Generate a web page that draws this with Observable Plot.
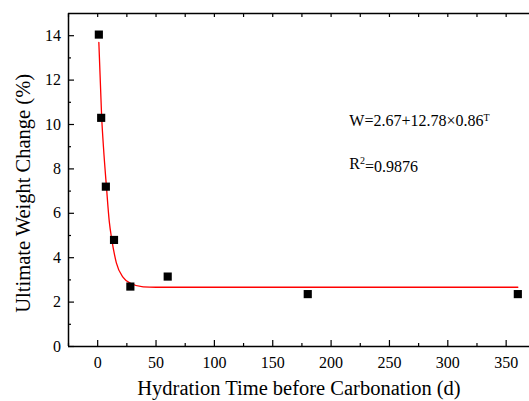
<!DOCTYPE html>
<html>
<head>
<meta charset="utf-8">
<script src="https://cdn.jsdelivr.net/npm/d3@7"></script>
<script src="https://cdn.jsdelivr.net/npm/@observablehq/plot@0.6"></script>
<style>
  body { margin: 0; background: #fff; }
  svg, svg text, svg g { font-family: "Liberation Serif", "Times New Roman", serif !important; font-variant: normal !important; }
</style>
</head>
<body>
<div id="chart"></div>
<script>
// Measured data points (hydration time in days, ultimate weight change in %)
const days = [1, 3, 7, 14, 28, 60, 180, 360];
const weightChange = [14.05, 10.3, 7.2, 4.8, 2.7, 3.15, 2.36, 2.36];

// Fitted curve
const fitDays = [1, 3.4, 5, 7.5, 10, 12, 16, 22, 28, 39, 50, 100, 200, 360];
const fitValues = [13.7, 10.35, 8.95, 7.2, 5.6, 4.85, 3.77, 3.1, 2.85, 2.69, 2.67, 2.67, 2.67, 2.67];

// Tick values
const xTicks = [0, 50, 100, 150, 200, 250, 300, 350];
const xMinorTicks = [-25, 25, 75, 125, 175, 225, 275, 325];
const yTicks = [0, 2, 4, 6, 8, 10, 12, 14];
const yMinorTicks = [1, 3, 5, 7, 9, 11, 13];

// Annotation texts
const equationText = "W=2.67+12.78×0.86";
const equationSup = "T";
const r2Base = "R";
const r2Sup = "2";
const r2Rest = "=0.9876";
const xLabel = "Hydration Time before Carbonation (d)";
const yLabel = "Ultimate Weight Change (%)";

const FONT = '"Liberation Serif", "Times New Roman", serif';
const points = days.map((d, i) => ({day: d, value: weightChange[i]}));
const fit = fitDays.map((d, i) => ({day: d, value: fitValues[i]}));

const plot = Plot.plot({
  width: 529,
  height: 401,
  marginLeft: 68,
  marginRight: 0,
  marginTop: 13,
  marginBottom: 55,
  style: {fontFamily: FONT, fontSize: "16px", color: "#000", background: "#fff"},
  x: {domain: [-25, 370]},
  y: {domain: [0, 15]},
  marks: [
    // frame lines (left, bottom, top)
    Plot.ruleX([-25], {stroke: "#000", strokeWidth: 1.5}),
    Plot.ruleY([0], {stroke: "#000", strokeWidth: 1.5}),
    Plot.ruleY([15], {stroke: "#000", strokeWidth: 1.5}),
    // bottom axis
    Plot.axisX(xTicks, {anchor: "bottom", tickSize: -6, tickPadding: 16, strokeWidth: 1.2, fontSize: 16, fontFamily: FONT, label: null}),
    Plot.axisX(xMinorTicks, {anchor: "bottom", tickSize: -3, text: null, strokeWidth: 1.2, label: null}),
    // top ticks
    Plot.axisX(xTicks.concat(xMinorTicks), {anchor: "top", tickSize: -3, text: null, strokeWidth: 1.2, label: null}),
    // left axis
    Plot.axisY(yTicks, {anchor: "left", tickSize: -6, tickPadding: 13.5, strokeWidth: 1.2, fontSize: 16, fontFamily: FONT, label: null}),
    Plot.axisY(yMinorTicks, {anchor: "left", tickSize: -3, text: null, strokeWidth: 1.2, label: null}),
    // fitted curve
    Plot.line(fit, {x: "day", y: "value", stroke: "#ff0000", strokeWidth: 1.3, curve: "monotone-x"}),
    // data points
    Plot.dot(points, {x: "day", y: "value", symbol: "square", r: 4.6, fill: "#000", stroke: "none"}),
    // axis titles
    Plot.text([xLabel], {x: 172.5, y: -1.88, fontSize: 20.5, fontFamily: FONT, fill: "#000"}),
    Plot.text([yLabel], {x: -63.7, y: 6.9, rotate: -90, fontSize: 20.5, fontFamily: FONT, fill: "#000"}),
    // annotations
    Plot.text([equationText], {x: 215.6, y: 10.17, textAnchor: "start", fontSize: 16, fontFamily: FONT, fill: "#000", className: "eq"}),
    Plot.text([r2Base], {x: 215.6, y: 8.23, textAnchor: "start", fontSize: 16, fontFamily: FONT, fill: "#000", className: "r2"})
  ]
});

const svg = d3.select(plot);
// force serif on every text element (including axis tick labels)
svg.selectAll("text, g").attr("font-family", FONT).attr("font-variant", null).style("font-family", FONT);

// add superscripts as tspans
svg.selectAll(".eq text").each(function() {
  d3.select(this).append("tspan").attr("dy", "-0.5em").attr("font-size", 10).text(equationSup);
});
svg.selectAll(".r2 text").each(function() {
  const t = d3.select(this);
  t.append("tspan").attr("dy", "-0.5em").attr("font-size", 10).text(r2Sup);
  t.append("tspan").attr("dy", "0.5em").text(r2Rest);
});

document.getElementById("chart").appendChild(plot);
</script>
</body>
</html>
